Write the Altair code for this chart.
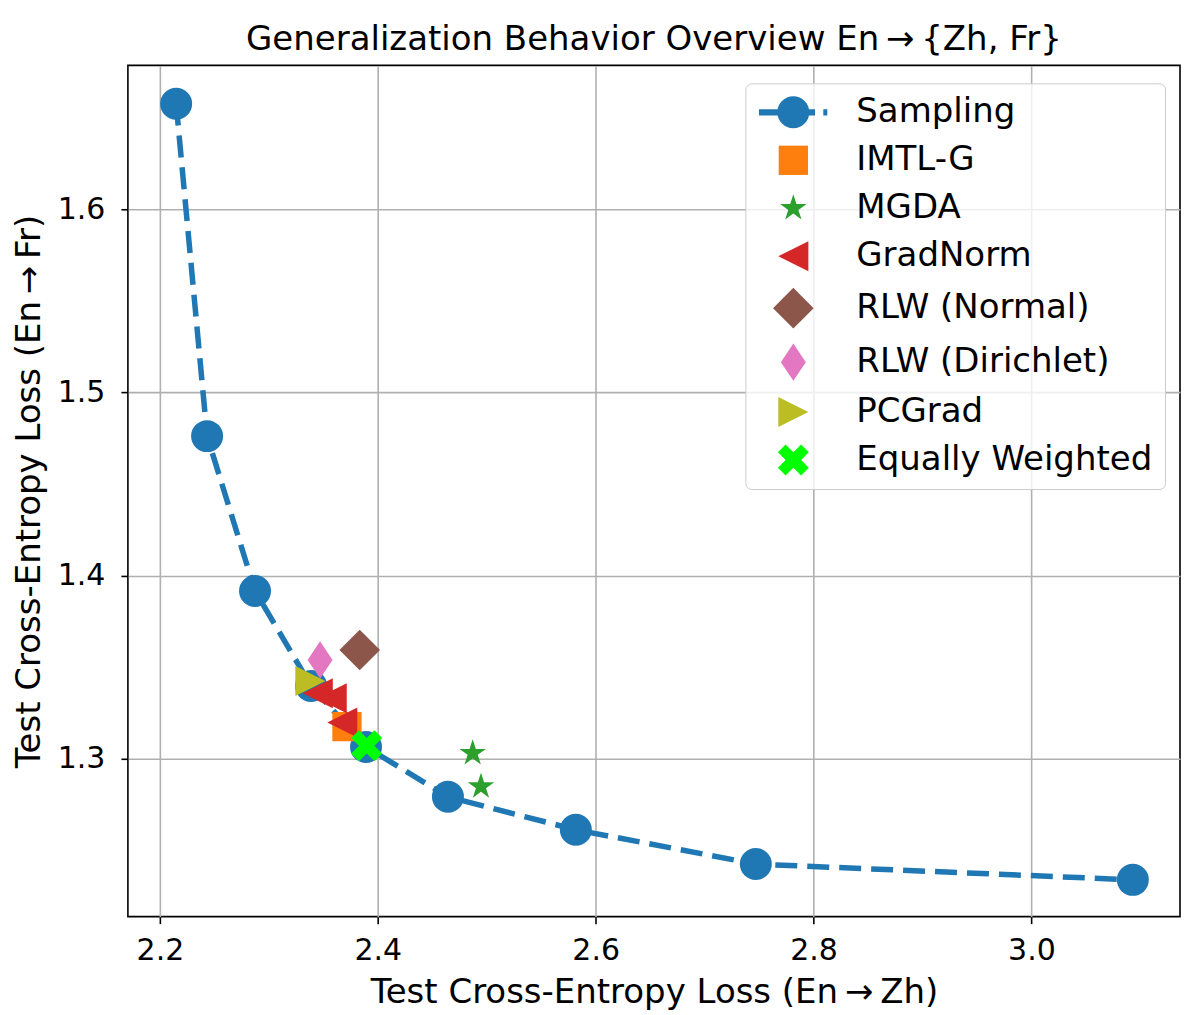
import math
import altair as alt
import pandas as pd

# ---- data ----
methods = ["Sampling", "IMTL-G", "MGDA", "GradNorm", "RLW (Normal)",
           "RLW (Dirichlet)", "PCGrad", "Equally Weighted"]
colors = ["#1f77b4", "#ff7f0e", "#2ca02c", "#d62728", "#8c564b",
          "#e377c2", "#bcbd22", "#00ff00"]

sampling_zh = [2.2149, 2.2433, 2.2873, 2.3387, 2.3892, 2.4644, 2.5818, 2.7470, 3.0931]
sampling_fr = [1.6575, 1.4761, 1.3916, 1.3398, 1.3065, 1.2793, 1.2613, 1.2426, 1.2340]

point_method = ["IMTL-G", "MGDA", "MGDA", "GradNorm", "GradNorm", "GradNorm",
                "RLW (Normal)", "RLW (Dirichlet)", "PCGrad", "Equally Weighted"]
point_zh = [2.3717, 2.4871, 2.4947, 2.3449, 2.3577, 2.3674, 2.3834, 2.3470, 2.3381, 2.3898]
point_fr = [1.3176, 1.3031, 1.2849, 1.3358, 1.3331, 1.3198, 1.3594, 1.3540, 1.3425, 1.3071]

x_ticks = [2.2, 2.4, 2.6, 2.8, 3.0]
y_ticks = [1.3, 1.4, 1.5, 1.6]

title_text = "Generalization Behavior Overview En\u2009\u2192\u2009{Zh, Fr}"
x_title = "Test Cross-Entropy Loss (En\u2009\u2192\u2009Zh)"
y_title = "Test Cross-Entropy Loss (En\u2009\u2192\u2009Fr)"

# ---- marker shapes (unit = sqrt(size)/2 px) ----
def star_path(r=0.87, inner=0.382):
    pts = []
    for k in range(10):
        ang = math.radians(-90 + 36 * k)
        rr = r if k % 2 == 0 else r * inner
        pts.append((rr * math.cos(ang), rr * math.sin(ang)))
    return "M" + "L".join(f"{x:.3f},{y:.3f}" for x, y in pts) + "Z"

def x_path(s=0.97):
    v = [(-0.5, -1), (0, -0.5), (0.5, -1), (1, -0.5), (0.5, 0), (1, 0.5),
         (0.5, 1), (0, 0.5), (-0.5, 1), (-1, 0.5), (-0.5, 0), (-1, -0.5)]
    return "M" + "L".join(f"{x*s:.3f},{y*s:.3f}" for x, y in v) + "Z"

circle = "M1,0A1,1 0 1,1 -1,0A1,1 0 1,1 1,0Z"
sampling_legend = ("M-2.15,-0.19H1.36V0.19H-2.15Z " + circle +
                   " M1.875,-0.19H2.125V0.19H1.875Z")
shapes = [
    sampling_legend,
    "M-0.916,-0.916H0.916V0.916H-0.916Z",
    star_path(),
    "M-0.94,0L0.94,-0.94L0.94,0.94Z",
    "M0,-1.27L1.27,0L0,1.27L-1.27,0Z",
    "M0,-1.16L0.78,0L0,1.16L-0.78,0Z",
    "M0.94,0L-0.94,-0.94L-0.94,0.94Z",
    x_path(),
]

sampling_df = pd.DataFrame({"zh": sampling_zh, "fr": sampling_fr})
points_df = pd.DataFrame({"zh": point_zh, "fr": point_fr, "method": point_method})

xscale = alt.Scale(domain=[2.1706, 3.1364], nice=False, zero=False)
yscale = alt.Scale(domain=[1.2139, 1.6784], nice=False, zero=False)

xenc = alt.X("zh:Q", scale=xscale,
             axis=alt.Axis(values=x_ticks, format=".1f", title=x_title,
                           titleY=86, titleBaseline="alphabetic",
                           labelPadding=12))
yenc = alt.Y("fr:Q", scale=yscale,
             axis=alt.Axis(values=y_ticks, format=".1f", title=y_title,
                           titleX=-88, titleBaseline="alphabetic",
                           labelPadding=16))

legend = alt.Legend(title=None, orient="none", legendX=618, legendY=18,
                    padding=12, symbolOffset=19, labelOffset=46,
                    symbolSize=1024, symbolStrokeWidth=0, rowPadding=14,
                    labelFontSize=34, labelFont="DejaVu Sans", labelColor="black",
                    labelLimit=0, fillColor="rgba(255,255,255,0.8)",
                    strokeColor="#cccccc", cornerRadius=6)

line = alt.Chart(sampling_df).mark_line(
    color="#1f77b4", strokeWidth=5.5, strokeDash=[22, 10]
).encode(x=xenc, y=yenc)

circles = alt.Chart(sampling_df).mark_point(
    shape="circle", filled=True, size=1024, opacity=1, color="#1f77b4"
).encode(x=xenc, y=yenc)

pts = alt.Chart(points_df).mark_point(filled=True, size=1024, opacity=1).encode(
    x=xenc, y=yenc,
    color=alt.Color("method:N", scale=alt.Scale(domain=methods, range=colors), legend=legend),
    shape=alt.Shape("method:N", scale=alt.Scale(domain=methods, range=shapes), legend=legend),
)

chart = alt.layer(line, circles, pts).properties(
    width=1053, height=852,
    padding={"left": 120, "top": 57, "right": 12, "bottom": 110},
    autosize=alt.AutoSizeParams(type="none"),
    title=alt.TitleParams(title_text, font="DejaVu Sans", fontSize=34,
                          fontWeight="normal", color="black",
                          frame="group", offset=8, anchor="middle"),
).configure_view(
    stroke="black", strokeWidth=1.6
).configure_axis(
    labelFont="DejaVu Sans", labelFontSize=30, labelColor="black",
    titleFont="DejaVu Sans", titleFontSize=34, titleFontWeight="normal", titleColor="black",
    tickColor="black", tickWidth=1.6, tickSize=7,
    gridColor="#b0b0b0", gridWidth=1.6, domain=False,
)

chart.save("out.html", embed_options={"renderer": "svg", "actions": False})
